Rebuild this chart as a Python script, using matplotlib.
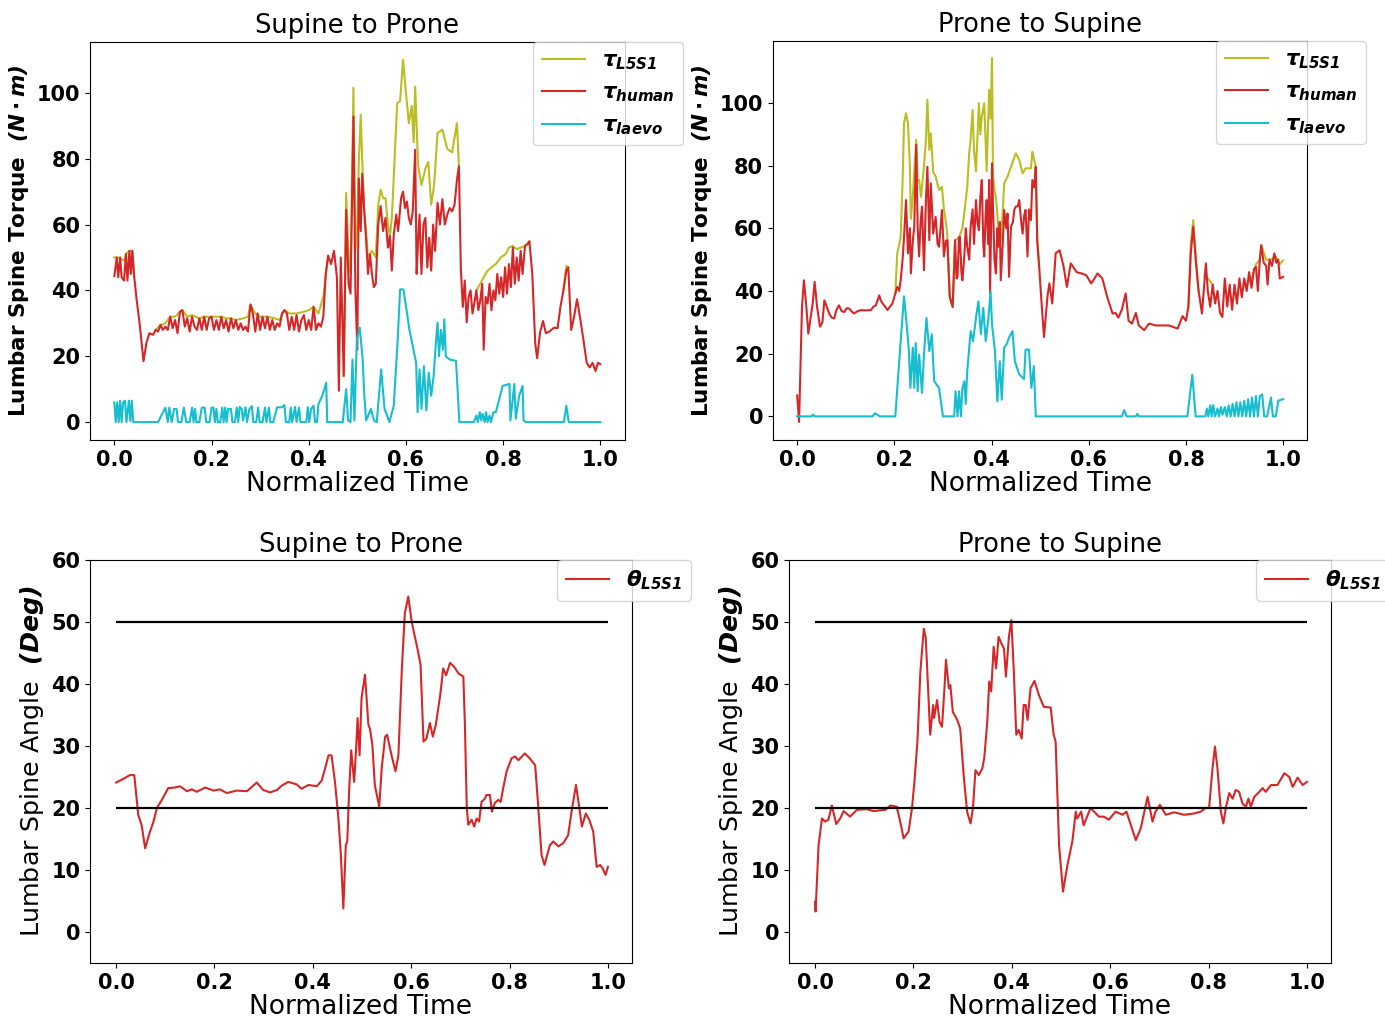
import numpy as np
import matplotlib
matplotlib.use('Agg')
import matplotlib.pyplot as plt

# Fonts: bold ticks, bold-italic math labels
plt.rcParams['font.family'] = ['DejaVu Sans']
plt.rcParams['font.weight'] = 'bold'
plt.rcParams['mathtext.fontset'] = 'custom'
plt.rcParams['mathtext.it'] = 'DejaVu Sans:italic:bold'
plt.rcParams['mathtext.rm'] = 'DejaVu Sans:italic:bold'
plt.rcParams['mathtext.bf'] = 'DejaVu Sans:italic:bold'

C_L5S1 = '#bcbd22'
C_HUMAN = '#d62728'
C_LAEVO = '#17becf'
N = None  # gap in a series

# ---------------- Supine to Prone: torque ----------------
tl_human_t = [0.000, 0.005, 0.008, 0.012, 0.015, 0.020, 0.024, 0.027, 0.031, 0.034, 0.037, 0.041, 0.046, 0.052,
              0.060, 0.066, 0.072, 0.080, 0.085, 0.090, 0.095, 0.100, 0.105, 0.110, 0.115, 0.120, 0.125, 0.130,
              0.135, 0.140, 0.145, 0.150, 0.155, 0.160, 0.165, 0.170, 0.175, 0.180, 0.185, 0.190, 0.195, 0.200,
              0.205, 0.210, 0.215, 0.220, 0.225, 0.230, 0.235, 0.240, 0.245, 0.250, 0.255, 0.260, 0.265, 0.270,
              0.275, 0.280, 0.285, 0.290, 0.295, 0.300, 0.305, 0.310, 0.315, 0.320, 0.325, 0.330, 0.335, 0.340,
              0.345, 0.350, 0.355, 0.360, 0.365, 0.370, 0.375, 0.380, 0.385, 0.390, 0.395, 0.400, 0.405, 0.410,
              0.415, 0.420, 0.425, 0.430, 0.435, 0.440, 0.446, 0.452, 0.458, 0.462, 0.466, 0.472, 0.477, 0.482,
              0.486, 0.492, 0.496, 0.500, 0.503, 0.507, 0.510, 0.514, 0.518, 0.522, 0.526, 0.530, 0.534, 0.538,
              0.543, 0.548, 0.553, 0.558, 0.563, 0.567, 0.571, 0.575, 0.580, 0.584, 0.590, 0.594, 0.598, 0.602,
              0.606, 0.610, 0.614, 0.619, 0.622, 0.625, 0.628, 0.632, 0.636, 0.640, 0.644, 0.648, 0.652, 0.656,
              0.660, 0.665, 0.670, 0.675, 0.680, 0.685, 0.690, 0.695, 0.700, 0.705, 0.709, 0.713, 0.717, 0.721,
              0.725, 0.729, 0.733, 0.737, 0.741, 0.745, 0.749, 0.753, 0.757, 0.760, 0.764, 0.768, 0.772, 0.776,
              0.780, 0.784, 0.788, 0.792, 0.796, 0.800, 0.804, 0.808, 0.812, 0.816, 0.820, 0.824, 0.828, 0.832,
              0.836, 0.840, 0.845, 0.850, 0.854, 0.860, 0.866, 0.870, 0.876, 0.882, 0.888, 0.895, 0.905, 0.912,
              0.918, 0.924, 0.930, 0.934, 0.940, 0.946, 0.952, 0.958, 0.965, 0.972, 0.978, 0.984, 0.990, 0.995,
              1.000]
tl_human_v = [44.3, 50, 44, 50, 44, 43, 51, 43, 52, 45, 52, 44, 37, 30,
              18.5, 24, 27, 26.5, 28, 27.5, 29.5, 28, 29, 28, 32, 28.5, 31, 27,
              33.5, 34, 29, 31.5, 27.5, 32, 29, 28, 31.5, 28, 32, 28, 31.5, 32,
              28, 31, 28, 32, 28.5, 31, 27.5, 31.5, 28.5, 31, 28, 30, 28, 29,
              27.5, 35.7, 33, 27.5, 33, 28, 32, 28.5, 32, 28, 31, 28, 30, 29,
              33, 34, 33, 28, 32, 28, 32.5, 27.5, 31, 32.5, 28, 31, 28, 35,
              28, 30, 29, 32, 45, 50.5, 48, 52, 44, 9.5, 50, 14, 64.5, 42,
              39, 92.8, 40, 22, 74, 58, 75.4, 64.6, 55.5, 45, 51, 45, 41, 42,
              60, 65.6, 58, 62, 53, 56.5, 46, 57, 63, 58, 68, 70, 65, 67,
              62, 60, 64, 82.7, 45, 55, 63, 45, 60, 62, 47, 56, 46, 60,
              52, 66.6, 60, 67.7, 60, 63, 65, 64, 66, 73.6, 77.7, 46.4, 35, 43,
              30.3, 38, 40, 33, 36.3, 40, 34, 37, 42, 22, 38, 36, 42, 34,
              40, 37, 45, 39, 44, 38, 47, 39, 48, 41, 53, 42, 50, 43,
              52, 45, 53.5, 54, 54.9, 45, 24, 19.4, 27.2, 30.7, 27, 27.5, 28.7, 28.5,
              35.1, 40, 46, 47, 28, 32, 37.3, 32, 25.2, 18, 16.6, 18, 15.5, 18,
              17.6]

tl_l5s1_t = [0.000, 0.008, 0.015, 0.020, 0.024, 0.031, 0.037, 0.041, N,
             0.085, 0.095, 0.105, 0.115, 0.125, 0.135, 0.140, 0.150, 0.160, 0.175, 0.185, 0.200, 0.220, 0.230,
             0.240, 0.250, 0.265, 0.275, 0.280, 0.290, 0.300, 0.315, 0.330, 0.340, 0.350, 0.360, 0.375, 0.390,
             0.400, 0.410, 0.420, 0.430, 0.440, N,
             0.472, 0.477, 0.482, 0.486, 0.492, 0.496, 0.500, 0.503, 0.507, 0.510, 0.514, 0.518, 0.522, 0.530,
             0.538, 0.543, 0.548, 0.553, 0.558, 0.563, 0.567, 0.571, 0.575, 0.582, 0.588, 0.594, 0.600, 0.606,
             0.612, 0.616, 0.619, 0.625, 0.632, 0.640, 0.646, 0.652, 0.658, 0.665, 0.675, 0.685, 0.695, 0.705,
             0.709, N,
             0.745, 0.753, 0.760, 0.768, 0.776, 0.785, 0.795, 0.805, 0.812, 0.820, 0.828, 0.836, 0.845, 0.854, N,
             0.924, 0.930, 0.934]
tl_l5s1_v = [50, 50, 49.5, 49, 51, 52, 52, 44, N,
             28, 29.5, 30, 32, 32, 33.5, 34, 32, 32.5, 31.5, 32, 32, 32, 31.5,
             31.5, 31, 31.5, 32, 35.7, 33, 32, 32, 31.5, 31, 34, 33, 33, 33.5,
             34, 35, 33, 38, 50.5, N,
             14, 69.6, 50, 45, 101.5, 52, 60, 78.8, 93.3, 80, 64.6, 58, 50, 52,
             50, 66, 70.6, 68, 68, 60, 56.5, 62, 74.6, 96.9, 97.5, 110, 100, 90.8,
             96, 85, 101.9, 78, 72, 77, 79, 66, 72, 87.8, 88.8, 83, 81.9, 90.8,
             77.7, N,
             40, 42, 44, 46, 47, 48, 50, 51, 53, 53.5, 52.5, 53, 53.5, 54.9, N,
             40, 47.4, 47]

tl_laevo_t = [0.000, 0.003, 0.006, 0.009, 0.012, 0.015, 0.018, 0.022, 0.025, 0.030, 0.033, 0.036, 0.039, 0.090,
              0.105, 0.110, 0.113, 0.118, 0.123, 0.128, 0.131, 0.138, 0.143, 0.148, 0.155, 0.160, 0.163, 0.166,
              0.169, 0.175, 0.180, 0.186, 0.189, 0.196, 0.200, 0.204, 0.207, 0.210, 0.213, 0.218, 0.222, 0.225,
              0.228, 0.231, 0.234, 0.240, 0.243, 0.248, 0.252, 0.255, 0.258, 0.262, 0.265, 0.270, 0.273, 0.278,
              0.283, 0.286, 0.292, 0.296, 0.299, 0.305, 0.310, 0.313, 0.318, 0.321, 0.327, 0.335, 0.345, 0.350,
              0.353, 0.360, 0.363, 0.366, 0.372, 0.375, 0.380, 0.383, 0.395, 0.398, 0.401, 0.405, 0.410, 0.413,
              0.417, 0.420, 0.428, 0.436, 0.438, 0.470, 0.477, 0.481, 0.486, 0.490, 0.494, 0.499, 0.505, 0.511,
              0.514, 0.518, 0.528, 0.534, 0.540, 0.549, 0.556, 0.566, 0.575, 0.583, 0.588, 0.595, 0.607, 0.621,
              0.624, 0.628, 0.632, 0.637, 0.642, 0.647, 0.652, 0.657, 0.662, 0.665, 0.668, 0.672, 0.676, 0.679,
              0.682, 0.690, 0.703, 0.710, 0.740, 0.745, 0.748, 0.752, 0.755, 0.758, 0.762, 0.765, 0.768, 0.772,
              0.775, 0.780, 0.785, 0.792, 0.799, 0.813, 0.815, 0.823, 0.826, 0.833, 0.840, 0.842, 0.847, 0.925,
              0.930, 0.935, 1.000]
tl_laevo_v = [6, 0, 6, 0, 6.5, 0, 6, 6.5, 0, 6.5, 0.3, 6.5, 0, 0,
              4.4, 0, 4.4, 0, 4, 4, 0, 0, 4.4, 0, 0, 4.4, 0, 4,
              0, 0, 4.4, 4.4, 0, 0, 4.4, 4.4, 0, 4, 0, 0, 4.4, 0,
              4.4, 0, 4, 4, 0, 0, 4.4, 0, 4.6, 4, 0.5, 4.5, 0, 4,
              4.8, 0, 0, 4.4, 0, 0, 4.4, 0, 4.4, 0, 0, 4.5, 4.5, 5.2,
              0, 0, 4.4, 0, 4.6, 0, 4.4, 0, 0, 4.5, 0, 4, 5, 0,
              0, 5.5, 8, 12, 0, 0, 10, 0.5, 0, 19, 0.5, 25, 28.7, 19,
              9, 0.5, 4, 0.5, 0, 16, 4, 0, 5, 25, 40.3, 40.3, 28.2, 18,
              3, 16, 4, 17, 3.5, 15, 8, 14, 25, 30.2, 20, 28, 22, 31.2,
              20, 19, 18.6, 0, 0, 2, 0, 3, 0.5, 2.5, 0, 3, 0, 2,
              0, 3, 3, 7, 11, 11.6, 0.5, 11.6, 1, 8, 11, 0.5, 0, 0,
              5, 0, 0]

# ---------------- Prone to Supine: torque ----------------
tr_human_t = [0.000, 0.004, 0.010, 0.014, 0.019, 0.023, 0.028, 0.032, 0.036, 0.041, 0.047, 0.052, 0.056, 0.061,
              0.066, 0.071, 0.076, 0.081, 0.086, 0.092, 0.097, 0.102, 0.107, 0.112, 0.117, 0.124, 0.131, 0.140,
              0.152, 0.157, 0.162, 0.169, 0.172, 0.176, 0.181, 0.186, 0.191, 0.196, 0.202, 0.206, 0.210, 0.213,
              0.217, 0.220, 0.224, 0.228, 0.232, 0.234, 0.238, 0.241, 0.245, 0.248, 0.251, 0.254, 0.257, 0.261,
              0.265, 0.268, 0.272, 0.275, 0.280, 0.285, 0.289, 0.292, 0.298, 0.302, 0.306, 0.309, 0.314, 0.320,
              0.325, 0.328, 0.330, 0.333, 0.335, 0.338, 0.340, 0.344, 0.347, 0.350, 0.354, 0.357, 0.361, 0.364,
              0.368, 0.371, 0.374, 0.377, 0.380, 0.383, 0.385, 0.388, 0.390, 0.393, 0.395, 0.397, 0.401, 0.403,
              0.406, 0.409, 0.412, 0.414, 0.417, 0.419, 0.423, 0.426, 0.430, 0.433, 0.436, 0.440, 0.444, 0.447,
              0.450, 0.454, 0.457, 0.461, 0.464, 0.467, 0.470, 0.474, 0.477, 0.481, 0.484, 0.488, 0.491, 0.494,
              0.498, 0.503, 0.508, 0.515, 0.519, 0.525, 0.532, 0.540, 0.548, 0.555, 0.563, 0.575, 0.585, 0.595,
              0.605, 0.612, 0.618, 0.628, 0.638, 0.649, 0.655, 0.661, 0.668, 0.676, 0.682, 0.689, 0.697, 0.703,
              0.714, 0.724, 0.738, 0.751, 0.765, 0.783, 0.793, 0.800, 0.805, 0.810, 0.815, 0.820, 0.826, 0.833,
              0.841, 0.845, 0.850, 0.855, 0.860, 0.865, 0.870, 0.875, 0.880, 0.885, 0.890, 0.895, 0.900, 0.905,
              0.910, 0.915, 0.920, 0.925, 0.930, 0.935, 0.940, 0.944, 0.948, 0.952, 0.955, 0.960, 0.965, 0.968,
              0.972, 0.977, 0.982, 0.986, 0.990, 0.993, 1.000]
tr_human_v = [6.7, -1.8, 34.9, 43.4, 35, 26.4, 31.7, 36, 42.9, 35, 28.6, 30, 37.0, 35,
              32.8, 31.5, 31.2, 34, 35.4, 33.5, 33.3, 34.5, 34.4, 33.5, 32.8, 33.5, 33.9, 33.8,
              33.9, 35, 35.4, 38.6, 37, 36.0, 35, 33.9, 35, 36.0, 39.2, 41.3, 40, 43.4,
              50, 57.3, 69.0, 52, 60, 45.6, 56, 60.5, 86.6, 60, 51.0, 62, 66.9, 46.6,
              69, 79.6, 56.2, 74.3, 58.3, 63.6, 55, 54.1, 65.8, 51.0, 56, 56.2, 38.1, 34.9,
              56.2, 44, 44.5, 57, 57.3, 46, 43.4, 51.0, 60, 54.1, 50, 60.5, 66, 55,
              69.0, 62, 59.4, 70, 75.4, 55, 51.0, 65, 69.0, 55, 75.4, 39.2, 80.7, 66.9,
              50, 45.6, 60, 54.1, 62, 43.4, 55, 65.8, 60, 64.7, 44.5, 60.5, 62, 66,
              66.9, 67, 69.0, 62, 58.3, 64, 65.8, 51, 66, 62.6, 75.4, 73, 79.6, 56.2,
              47.7, 36, 25.3, 38.1, 42.4, 36, 52, 53, 48, 41.3, 48.8, 46, 45.6, 45,
              42.4, 44, 45.6, 44, 38.1, 32.8, 33, 31.5, 34, 39.2, 30.5, 29.6, 33, 29,
              27.5, 29.6, 29, 29, 29, 28, 32, 30.5, 35, 52, 60.5, 50, 40, 32.8,
              48.8, 40, 35, 42, 36, 40, 33, 31.7, 44, 35, 42, 34, 42, 36,
              44, 38, 44, 40, 46, 41, 47, 47.7, 40, 50, 54.6, 49, 48, 42,
              50, 48, 52, 49, 50, 44, 44.5]

tr_l5s1_t = [0.202, 0.206, 0.213, 0.217, 0.220, 0.224, 0.228, 0.232, 0.234, 0.238, 0.241, 0.245, 0.248, 0.251,
             0.255, 0.261, 0.265, 0.268, 0.272, 0.275, 0.280, 0.285, 0.292, 0.298, 0.302, 0.306, 0.309, 0.314,
             0.320, 0.325, 0.333, 0.340, 0.344, 0.350, 0.354, 0.357, 0.361, 0.364, 0.368, 0.374, 0.377, 0.380,
             0.385, 0.390, 0.395, 0.398, 0.401, 0.403, 0.406, 0.409, 0.414, 0.419, 0.423, 0.426, 0.433, 0.440,
             0.450, 0.457, 0.464, 0.470, 0.481, 0.484, 0.491, 0.494, 0.498, N,
             0.805, 0.810, 0.815, 0.820, 0.826, N,
             0.838, 0.848, 0.855, N,
             0.925, 0.935, 0.944, 0.952, 0.955, 0.965, 0.975, 0.985, 0.993, 1.000]
tr_l5s1_v = [39.2, 52, 57, 75, 93.5, 96.7, 93.5, 80, 63, 70, 78.1, 88.2, 75, 75.4,
             70, 80, 88, 101, 85, 90.3, 78, 76.5, 72.2, 73.2, 66, 62, 58, 38.1,
             34.9, 56.2, 57, 60, 65, 73.2, 83.9, 88.2, 97.7, 85, 78.1, 99.9, 90, 95.6,
             99.9, 78.1, 104.2, 95, 114.3, 76.5, 72, 70, 60.5, 56.2, 65, 74.3, 76.5, 79.6,
             83.9, 81.8, 77.5, 79.1, 79.1, 84.4, 79.6, 56.2, 47.7, N,
             35, 55, 62.6, 52, 40, N,
             45, 43.5, 42, N,
             42, 44, 48.5, 50, 54.6, 50, 50, 51, 48.5, 49.8]

tr_laevo_t = [0.000, 0.030, 0.033, 0.036, 0.155, 0.160, 0.165, 0.170, 0.202, 0.213, 0.220, 0.226, 0.230, 0.233,
              0.238, 0.241, 0.244, 0.248, 0.251, 0.257, 0.261, 0.266, 0.272, 0.277, 0.282, 0.292, 0.300, 0.323,
              0.326, 0.330, 0.333, 0.337, 0.340, 0.344, 0.347, 0.350, 0.357, 0.362, 0.368, 0.373, 0.378, 0.383,
              0.388, 0.393, 0.398, 0.401, 0.407, 0.412, 0.417, 0.421, 0.426, 0.431, 0.436, 0.443, 0.448, 0.457,
              0.467, 0.470, 0.477, 0.482, 0.487, 0.491, 0.668, 0.673, 0.678, 0.697, 0.700, 0.703, 0.803, 0.813,
              0.820, 0.840, 0.843, 0.846, 0.850, 0.853, 0.856, 0.860, 0.865, 0.868, 0.872, 0.875, 0.880, 0.884,
              0.888, 0.892, 0.896, 0.900, 0.904, 0.908, 0.912, 0.916, 0.920, 0.924, 0.928, 0.932, 0.936, 0.940,
              0.944, 0.948, 0.952, 0.957, 0.961, 0.967, 0.975, 0.979, 0.985, 0.990, 1.000]
tr_laevo_v = [0, 0, 0.6, 0, 0, 1, 0.5, 0, 0, 24, 38.3, 28.2, 20.8, 9.1,
              21.9, 9.1, 23.4, 8, 19.7, 7.5, 19.7, 31.4, 20.8, 26.2, 11.2, 9.1, 0, 0,
              8, 0, 8, 0, 9, 11.2, 4, 14.4, 27.2, 24, 31.4, 36.7, 26.2, 34.6,
              24, 30.4, 39.9, 29.3, 20.8, 4.8, 17.6, 5.3, 21.9, 23, 25.1, 27.2, 17.6, 13.4,
              11.9, 21.3, 21.3, 9.1, 16, 0, 0, 2, 0, 0, 0.8, 0, 0, 13.3,
              0, 0, 2.5, 0, 3.5, 0, 3.6, 0, 2.5, 0, 3, 0.5, 3, 0,
              3.5, 0, 4, 0, 4.5, 0, 4.5, 0, 5, 0, 5.5, 0, 6, 0,
              6.5, 0, 6.5, 7, 0, 0, 6, 0, 0, 5, 5.5]

# ---------------- Lumbar spine angle ----------------
bl_theta_t = [0.000, 0.015, 0.028, 0.037, 0.045, 0.052, 0.059, 0.069, 0.076, 0.083, 0.093, 0.106, 0.120, 0.130,
              0.144, 0.154, 0.164, 0.181, 0.198, 0.211, 0.225, 0.245, 0.266, 0.286, 0.299, 0.313, 0.327, 0.337,
              0.350, 0.367, 0.377, 0.391, 0.408, 0.418, 0.425, 0.432, 0.438, 0.445, 0.452, 0.457, 0.462, 0.467,
              0.470, 0.474, 0.478, 0.484, 0.488, 0.491, 0.495, 0.499, 0.506, 0.513, 0.516, 0.521, 0.526, 0.535,
              0.540, 0.547, 0.551, 0.560, 0.568, 0.574, 0.581, 0.587, 0.594, 0.601, 0.608, 0.614, 0.619, 0.625,
              0.631, 0.638, 0.644, 0.650, 0.659, 0.665, 0.671, 0.679, 0.687, 0.696, 0.706, 0.709, 0.713, 0.716,
              0.723, 0.728, 0.733, 0.738, 0.743, 0.750, 0.753, 0.760, 0.764, 0.770, 0.777, 0.782, 0.787, 0.794,
              0.804, 0.811, 0.818, 0.831, 0.841, 0.852, 0.858, 0.865, 0.871, 0.882, 0.889, 0.899, 0.909, 0.919,
              0.926, 0.935, 0.940, 0.947, 0.955, 0.962, 0.970, 0.977, 0.984, 0.989, 0.995, 1.000]
bl_theta_v = [24.1, 24.7, 25.3, 25.3, 18.9, 17.2, 13.5, 16.2, 17.8, 20.0, 21.3, 23.2, 23.3, 23.5,
              22.7, 23.0, 22.6, 23.3, 22.8, 23.0, 22.4, 22.8, 22.7, 24.1, 22.9, 22.5, 22.9, 23.6,
              24.2, 23.8, 23.1, 23.7, 23.5, 24.4, 26.4, 28.5, 28.5, 24.2, 18.3, 12.4, 3.8, 14.0,
              14.6, 23.2, 29.3, 24.2, 29.6, 34.5, 28.5, 37.7, 41.5, 33.4, 32.8, 30.2, 23.7, 20.2,
              26.4, 31.5, 31.8, 28.5, 25.9, 28.5, 42.5, 51.4, 54.1, 50.0, 47.4, 45.2, 43.1, 30.7,
              31.2, 33.7, 31.5, 33.4, 38.2, 42.5, 41.4, 43.4, 42.8, 41.7, 41.2, 33.9, 20.0, 17.3,
              18.1, 17.0, 18.3, 17.8, 21.0, 21.5, 22.1, 22.1, 19.4, 20.8, 21.3, 21.0, 23.2, 25.9,
              28.0, 28.3, 27.7, 28.8, 28.0, 26.9, 20.5, 12.4, 10.8, 14.0, 14.6, 13.8, 14.3, 15.6,
              19.4, 23.7, 21.0, 17.0, 19.1, 18.1, 16.2, 10.5, 10.8, 10.3, 9.2, 10.5]

br_theta_t = [0.000, 0.001, 0.007, 0.014, 0.020, 0.027, 0.034, 0.043, 0.051, 0.058, 0.071, 0.085, 0.105, 0.119,
              0.143, 0.153, 0.166, 0.173, 0.180, 0.190, 0.197, 0.202, 0.208, 0.214, 0.221, 0.225, 0.229, 0.234,
              0.240, 0.242, 0.248, 0.253, 0.258, 0.263, 0.266, 0.272, 0.275, 0.280, 0.289, 0.295, 0.302, 0.309,
              0.316, 0.321, 0.326, 0.333, 0.340, 0.344, 0.350, 0.354, 0.358, 0.363, 0.368, 0.373, 0.379, 0.384,
              0.388, 0.394, 0.399, 0.404, 0.409, 0.414, 0.420, 0.424, 0.428, 0.432, 0.438, 0.446, 0.455, 0.465,
              0.479, 0.485, 0.489, 0.496, 0.504, 0.513, 0.523, 0.530, 0.533, 0.541, 0.546, 0.560, 0.577, 0.587,
              0.597, 0.611, 0.625, 0.633, 0.642, 0.652, 0.662, 0.676, 0.686, 0.692, 0.701, 0.713, 0.730, 0.750,
              0.770, 0.784, 0.794, 0.801, 0.808, 0.813, 0.818, 0.825, 0.830, 0.835, 0.842, 0.849, 0.855, 0.862,
              0.869, 0.876, 0.881, 0.886, 0.893, 0.903, 0.910, 0.916, 0.927, 0.940, 0.954, 0.964, 0.971, 0.981,
              0.991, 1.000]
br_theta_v = [4.9, 3.3, 14.0, 18.3, 17.8, 18.1, 20.4, 17.4, 18.3, 19.5, 18.6, 19.7, 19.8, 19.5,
              19.7, 20.4, 20.2, 17.8, 15.1, 16.2, 20.0, 24.3, 30.7, 42.0, 48.9, 47.4, 40.4, 31.8,
              36.6, 34.5, 37.4, 33.9, 33.1, 39.3, 43.9, 39.3, 39.8, 35.5, 34.2, 32.8, 25.3, 19.4,
              17.5, 20.0, 26.1, 25.3, 26.4, 28.1, 33.9, 40.4, 38.8, 46.0, 42.5, 47.6, 46.5, 45.7,
              41.2, 47.6, 50.3, 42.0, 31.8, 32.6, 31.2, 36.6, 36.6, 34.2, 39.3, 40.5, 38.2, 36.3,
              36.2, 31.8, 30.7, 14.0, 6.5, 10.8, 14.6, 19.4, 18.3, 19.4, 17.2, 20.0, 18.6, 18.6,
              18.1, 19.4, 18.9, 19.4, 17.2, 14.8, 16.7, 21.8, 17.8, 19.4, 20.5, 18.9, 19.3, 18.9,
              19.1, 19.4, 20.0, 20.0, 26.4, 29.9, 26.4, 19.4, 17.5, 20.0, 22.4, 21.5, 22.9, 22.6,
              20.7, 20.2, 21.5, 20.2, 21.8, 22.6, 23.2, 22.6, 23.7, 23.7, 25.6, 25.0, 23.4, 24.9,
              23.7, 24.2]

angle_limits = [20, 50]
x_ticks = [0.0, 0.2, 0.4, 0.6, 0.8, 1.0]


def arr(values):
    return np.array(values, dtype=float)


def style_axes(ax, title):
    ax.set_title(title, fontsize=18.5, fontweight='normal')
    ax.set_xlabel('Normalized Time', fontsize=19, fontweight='normal', labelpad=1)
    ax.set_xticks(x_ticks)
    ax.tick_params(labelsize=15)


def torque_panel(ax, title, t_l5s1, v_l5s1, t_human, v_human, t_laevo, v_laevo, ylim):
    ax.plot(arr(t_l5s1), arr(v_l5s1), color=C_L5S1, lw=1.5, label=r'$\tau_{L5S1}$')
    ax.plot(arr(t_human), arr(v_human), color=C_HUMAN, lw=1.5, label=r'$\tau_{human}$')
    ax.plot(arr(t_laevo), arr(v_laevo), color=C_LAEVO, lw=1.5, label=r'$\tau_{laevo}$')
    ax.set_xlim(-0.05, 1.05)
    ax.set_ylim(*ylim)
    ax.set_yticks([0, 20, 40, 60, 80, 100])
    style_axes(ax, title)
    ax.set_ylabel(r'Lumbar Spine Torque  $(N \cdot m)$', fontsize=15.5, fontweight='bold')
    ax.legend(loc='upper right', bbox_to_anchor=(1.11, 1.0), borderaxespad=0, fontsize=15.5)


def angle_panel(ax, title, t, v):
    ax.plot(arr(t), arr(v), color=C_HUMAN, lw=1.5, label=r'$\theta_{L5S1}$')
    ax.hlines(angle_limits, 0, 1, colors='k', lw=1.6)
    ax.set_xlim(-0.053, 1.048)
    ax.set_ylim(-5, 60)
    ax.set_yticks([0, 10, 20, 30, 40, 50, 60])
    style_axes(ax, title)
    ax.set_ylabel(r'Lumbar Spine Angle  $(Deg)$', fontsize=18.3, fontweight='normal')
    ax.legend(loc='upper right', bbox_to_anchor=(1.11, 1.0), borderaxespad=0, fontsize=15.5)


fig = plt.figure(figsize=(13.85, 10.19), dpi=100)
ax_tl = fig.add_axes([0.065, 0.568, 0.386, 0.391])
ax_tr = fig.add_axes([0.558, 0.568, 0.386, 0.392])
ax_bl = fig.add_axes([0.065, 0.055, 0.391, 0.3955])
ax_br = fig.add_axes([0.5697, 0.055, 0.391, 0.3955])

torque_panel(ax_tl, 'Supine to Prone', tl_l5s1_t, tl_l5s1_v, tl_human_t, tl_human_v,
             tl_laevo_t, tl_laevo_v, (-5.5, 115.5))
torque_panel(ax_tr, 'Prone to Supine', tr_l5s1_t, tr_l5s1_v, tr_human_t, tr_human_v,
             tr_laevo_t, tr_laevo_v, (-7.6, 119.8))
angle_panel(ax_bl, 'Supine to Prone', bl_theta_t, bl_theta_v)
angle_panel(ax_br, 'Prone to Supine', br_theta_t, br_theta_v)

fig.savefig('out.png', dpi=100)
plt.close(fig)
